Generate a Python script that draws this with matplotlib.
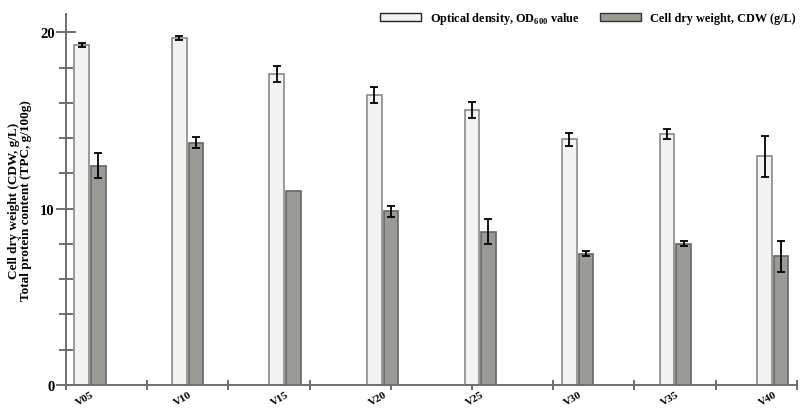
import numpy as np
import matplotlib
matplotlib.use('Agg')
import matplotlib.pyplot as plt
import matplotlib.patches as mpatches
from matplotlib.ticker import MultipleLocator, FixedLocator

plt.rcParams['font.family'] = 'Liberation Serif'
plt.rcParams['font.weight'] = 'bold'
plt.rcParams['mathtext.fontset'] = 'custom'
plt.rcParams['mathtext.rm'] = 'Liberation Serif:bold'
plt.rcParams['mathtext.bf'] = 'Liberation Serif:bold'

# Data
samples = ['V05', 'V10', 'V15', 'V20', 'V25', 'V30', 'V35', 'V40']
od600 = [19.28, 19.68, 17.64, 16.45, 15.60, 13.94, 14.24, 12.96]
od600_err = [0.10, 0.13, 0.45, 0.44, 0.45, 0.37, 0.29, 1.15]
cdw = [12.43, 13.74, 11.02, 9.85, 8.70, 7.44, 8.02, 7.30]
cdw_err = [0.72, 0.31, 0.0, 0.31, 0.72, 0.14, 0.14, 0.87]

# Style
OD_FACE, OD_EDGE = '#f4f3f1', '#8a8a8a'
CDW_FACE, CDW_EDGE = '#9c9a95', '#666666'
AXIS_COLOR = '#6e6e6e'
BAR_W = 0.15
OFFSET = 0.085

fig = plt.figure(figsize=(8.0, 4.14), dpi=100)
ax = fig.add_axes([0.0825, 0.068, 0.9135, 0.896])

x = np.arange(len(samples))
err_kw = dict(ecolor='black', elinewidth=1.3, capsize=3, capthick=1.3)
ax.bar(x - OFFSET, od600, BAR_W, yerr=od600_err, color=OD_FACE,
       edgecolor=OD_EDGE, linewidth=1.2, error_kw=err_kw, zorder=2)
cdw_yerr = np.array(cdw_err)
ax.bar(x + OFFSET, cdw, BAR_W, color=CDW_FACE,
       edgecolor=CDW_EDGE, linewidth=1.2, zorder=2)
has_err = cdw_yerr > 0
ax.errorbar(x[has_err] + OFFSET, np.array(cdw)[has_err], yerr=cdw_yerr[has_err],
            fmt='none', zorder=3, **err_kw)

# Axes
ax.set_xlim(-0.246, len(samples) - 1 + 0.246)
ax.set_ylim(0, 21.05)
for side in ['top', 'right']:
    ax.spines[side].set_visible(False)
for side in ['left', 'bottom']:
    ax.spines[side].set_color(AXIS_COLOR)
    ax.spines[side].set_linewidth(1.4)

ax.yaxis.set_major_locator(FixedLocator([0, 10, 20]))
ax.yaxis.set_minor_locator(MultipleLocator(2))
ax.tick_params(axis='y', which='major', direction='inout', length=14,
               width=1.4, color=AXIS_COLOR, labelsize=10.5, pad=1)
ax.tick_params(axis='y', which='minor', direction='inout', length=10,
               width=1.4, color=AXIS_COLOR)

ax.set_xticks(x)
ax.set_xticklabels([])
xmin, xmax = ax.get_xlim()
ax.xaxis.set_minor_locator(FixedLocator(np.linspace(xmin, xmax, 10)))
ax.tick_params(axis='x', which='major', length=0)
ax.tick_params(axis='x', which='minor', direction='inout', length=7,
               width=1.4, color=AXIS_COLOR)
for xi, s in zip(x, samples):
    ax.annotate(s, xy=(xi + 0.01, 0), xycoords=('data', 'axes fraction'),
                xytext=(0, -3.5), textcoords='offset points',
                ha='right', va='top', rotation=30, rotation_mode='anchor',
                fontsize=8, fontweight='bold')

ax.set_ylabel('Cell dry weight (CDW, g/L)\nTotal protein content (TPC, g/100g)',
              fontsize=9.5, fontweight='bold', linespacing=0.95)
ax.yaxis.set_label_coords(-0.047, 0.5)

# Legend
handles = [
    mpatches.Patch(facecolor=OD_FACE, edgecolor='#222222', linewidth=1.0,
                   label=r'Optical density, OD$_{600}$ value'),
    mpatches.Patch(facecolor=CDW_FACE, edgecolor='#333333', linewidth=1.0,
                   label='Cell dry weight, CDW (g/L)'),
]
fig.legend(handles=handles, loc='upper right', bbox_to_anchor=(1.008, 1.0),
           ncol=2, frameon=False, fontsize=8.8, handlelength=3.35,
           handleheight=0.65, handletextpad=0.75, columnspacing=1.6)

plt.savefig('out.png', dpi=100)
